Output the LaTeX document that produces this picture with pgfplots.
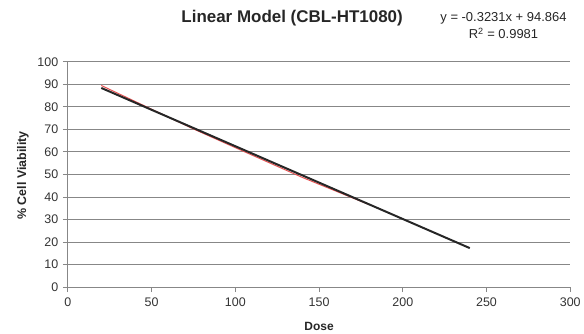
\documentclass[border=0pt]{standalone}
\usepackage{pgfplots}
\pgfplotsset{compat=1.18}
\usepackage{fontspec}
\setmainfont{Liberation Sans}
\definecolor{gridgray}{RGB}{135,135,135}
\definecolor{datared}{RGB}{230,80,80}
\begin{document}
\begin{tikzpicture}[x=1pt,y=1pt]
\begin{axis}[
  at={(0,0)}, anchor=south west,
  scale only axis, width=504pt, height=226pt,
  xmin=0, xmax=300, ymin=0, ymax=100,
  xtick={0,50,...,300}, ytick={0,10,...,100},
  axis x line*=bottom, axis y line*=left,
  axis line style={gridgray, line width=0.9pt, -},
  ymajorgrids, grid style={gridgray, line width=1pt},
  tick style={gridgray, line width=0.9pt},
  tick align=outside, major tick length=5pt,
  /pgf/number format/assume math mode=true,
  ticklabel style={font=\fontsize{12.5}{14}\selectfont, text=black!80},
  xticklabel style={yshift=-2pt},
  yticklabel style={xshift=-1pt},
  clip=false,
]
\addplot[datared, line width=1pt] coordinates {(20,89.5) (75,70.2) (110,58.6) (140,48.7) (170,39.6) (180,36.6)};
\addplot[black!85, line width=2pt] coordinates {(20,88.40) (240,17.32)};
\end{axis}
\node[font=\fontsize{12}{14}\selectfont\bfseries, text=black!85] at (252pt,-39pt) {Dose};
\node[rotate=90, font=\fontsize{12.5}{14}\selectfont\bfseries, text=black!85] at (-45pt,112pt) {\% Cell Viability};
\node[font=\fontsize{17}{20}\selectfont\bfseries, text=black!85] at (225pt,270pt) {Linear Model (CBL-HT1080)};
\node[align=center, font=\fontsize{13}{17}\selectfont, text=black!85] at (437pt,262pt) {y = -0.3231x + 94.864\\R\textsuperscript{2} = 0.9981};
\path[use as bounding box] (-68pt,-47pt) rectangle (516pt,288pt);
\end{tikzpicture}
\end{document}
